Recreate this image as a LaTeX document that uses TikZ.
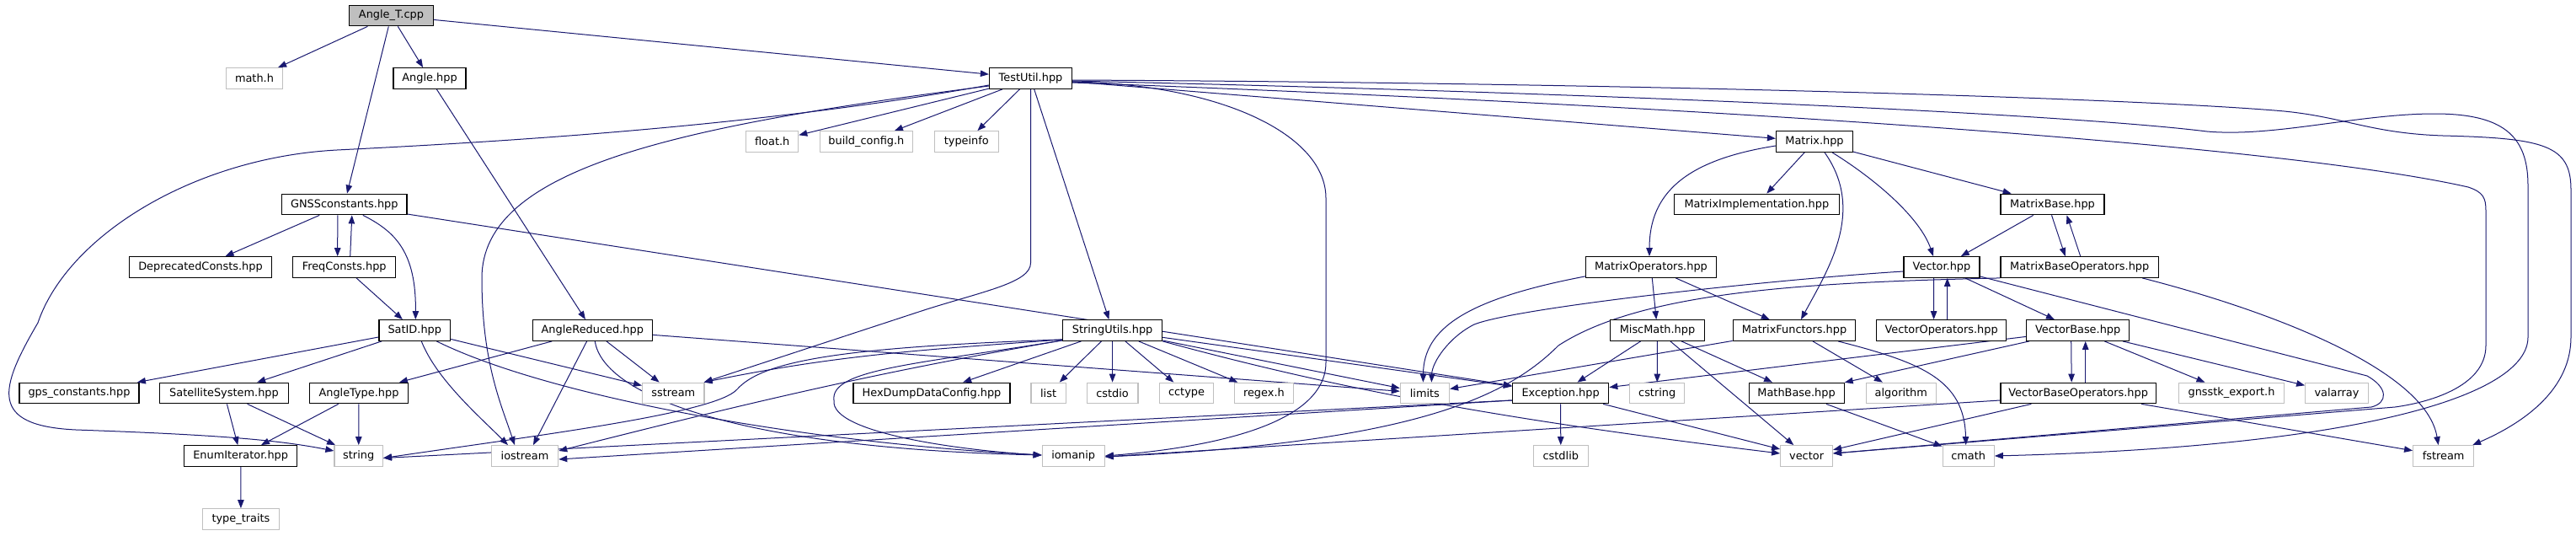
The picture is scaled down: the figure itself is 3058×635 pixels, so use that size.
\documentclass[tikz,border=0pt]{standalone}
\usepackage{fontspec}
\setmainfont{DejaVu Sans}
\usetikzlibrary{arrows.meta}
\definecolor{edgec}{HTML}{191970}
\definecolor{extc}{HTML}{BFBFBF}
\definecolor{rootc}{HTML}{BFBFBF}
\pgfdeclarelayer{back}
\pgfdeclarelayer{edges}
\pgfsetlayers{back,edges,main}
\tikzset{
  box/.style={draw=black, line width=1.2pt, fill=white, minimum height=24.6pt, inner sep=0pt,
    font=\fontsize{12.9pt}{15pt}\selectfont, text=black},
  ext/.style={box, draw=extc},
  root/.style={box, fill=rootc},
  edge/.style={draw=edgec, line width=1pt, -{Triangle[length=10pt,width=7.5pt]}},
}
\begin{document}
\begin{tikzpicture}[x=1pt, y=-1pt]
\begin{pgfonlayer}{back}
\fill[white] (0,0) rectangle (3058,635);
\end{pgfonlayer}
\useasboundingbox (0,0) rectangle (3058,635);

% row 0
\node[root, minimum width=100pt] (angleT) at (464.5,18.5) {Angle\_T.cpp};
% row 1
\node[ext, minimum width=67pt] (mathh) at (302,93) {math.h};
\node[box, minimum width=86pt] (angle) at (510,93) {Angle.hpp};
\node[box, minimum width=98pt] (testutil) at (1223.5,93) {TestUtil.hpp};
% row 2
\node[ext, minimum width=62pt] (floath) at (916.7,168) {float.h};
\node[ext, minimum width=110pt] (buildcfg) at (1028.4,168) {build\_config.h};
\node[ext, minimum width=75.6pt] (typeinfo) at (1147.3,168) {typeinfo};
\node[box, minimum width=91pt] (matrix) at (2154,168) {Matrix.hpp};
% row 3
\node[box, minimum width=148.5pt] (gnss) at (408.8,242.5) {GNSSconstants.hpp};
\node[box, minimum width=195.6pt] (matimpl) at (2085.4,242.5) {MatrixImplementation.hpp};
\node[box, minimum width=123pt] (matbase) at (2436.5,242.5) {MatrixBase.hpp};
% row 4
\node[box, minimum width=169pt] (deprec) at (238,317) {DeprecatedConsts.hpp};
\node[box, minimum width=122pt] (freq) at (408.7,317) {FreqConsts.hpp};
\node[box, minimum width=155pt] (matops) at (1960,317) {MatrixOperators.hpp};
\node[box, minimum width=90pt] (vectorh) at (2305,317) {Vector.hpp};
\node[box, minimum width=187.6pt] (matbaseops) at (2468.7,317) {MatrixBaseOperators.hpp};
% row 5
\node[box, minimum width=84.7pt] (satid) at (492.3,392) {SatID.hpp};
\node[box, minimum width=142.4pt] (anglered) at (703.3,392) {AngleReduced.hpp};
\node[box, minimum width=118pt] (strutils) at (1320.6,392) {StringUtils.hpp};
\node[box, minimum width=112.3pt] (miscmath) at (1967.5,392) {MiscMath.hpp};
\node[box, minimum width=145.4pt] (matfunc) at (2130,392) {MatrixFunctors.hpp};
\node[box, minimum width=153.5pt] (vecops) at (2304.6,392) {VectorOperators.hpp};
\node[box, minimum width=121.8pt] (vecbase) at (2466.7,392) {VectorBase.hpp};
% row 6
\node[box, minimum width=142pt] (gpsc) at (94,466.5) {gps\_constants.hpp};
\node[box, minimum width=152.6pt] (satsys) at (266,466.5) {SatelliteSystem.hpp};
\node[box, minimum width=117pt] (angletype) at (426,466.5) {AngleType.hpp};
\node[ext, minimum width=73.5pt] (sstream) at (799.3,466.5) {sstream};
\node[box, minimum width=186pt] (hexdump) at (1106,466.5) {HexDumpDataConfig.hpp};
\node[ext, minimum width=41.3pt] (list) at (1244.6,466.5) {list};
\node[ext, minimum width=60.7pt] (cstdio) at (1320.6,466.5) {cstdio};
\node[ext, minimum width=64.3pt] (cctype) at (1408.5,466.5) {cctype};
\node[ext, minimum width=70.4pt] (regexh) at (1500.4,466.5) {regex.h};
\node[ext, minimum width=58.2pt] (limits) at (1691.4,466.5) {limits};
\node[box, minimum width=114.3pt] (exception) at (1852.6,466.5) {Exception.hpp};
\node[ext, minimum width=65.3pt] (cstring) at (1967.2,466.5) {cstring};
\node[box, minimum width=113pt] (mathbase) at (2132.6,466.5) {MathBase.hpp};
\node[ext, minimum width=83.3pt] (algorithm) at (2256.8,466.5) {algorithm};
\node[box, minimum width=184.6pt] (vecbaseops) at (2467.2,466.5) {VectorBaseOperators.hpp};
\node[ext, minimum width=125.2pt] (gnsstkexp) at (2649,466.5) {gnsstk\_export.h};
\node[ext, minimum width=74.6pt] (valarray) at (2774,466.5) {valarray};
% row 7
\node[box, minimum width=133.8pt] (enumit) at (285.7,541) {EnumIterator.hpp};
\node[ext, minimum width=57.5pt] (string) at (425.7,541) {string};
\node[ext, minimum width=79.4pt] (iostream) at (623,541) {iostream};
\node[ext, minimum width=74pt] (iomanip) at (1274.2,541) {iomanip};
\node[ext, minimum width=64.8pt] (cstdlib) at (1852.8,541) {cstdlib};
\node[ext, minimum width=61.8pt] (vector) at (2144.6,541) {vector};
\node[ext, minimum width=61.1pt] (cmath) at (2336.7,541) {cmath};
\node[ext, minimum width=71.9pt] (fstream) at (2900.6,541) {fstream};
% row 8
\node[ext, minimum width=91.4pt] (typetraits) at (286,616) {type\_traits};

\begin{pgfonlayer}{edges}
% Angle_T.cpp
\draw[edge] (angleT) -- (mathh);
\draw[edge] (angleT) -- (angle);
\draw[edge] (angleT) -- (gnss);
\draw[edge] (angleT) -- (testutil);
\draw[edge] (angle) -- (anglered);
% TestUtil.hpp
\draw[edge] (testutil) -- (floath);
\draw[edge] (testutil) -- (buildcfg);
\draw[edge] (testutil) -- (typeinfo);
\draw[edge] (testutil) -- (strutils);
\draw[edge] (testutil) -- (matrix);
\draw[edge] (testutil.south) -- (1223.5,312) .. controls (1223.5,335) and (1170,345) .. (1100,367) -- ([xshift=-1pt]sstream.north east);
\draw[edge] ([yshift=-8pt]testutil.west) .. controls (900,150) and (600,168) .. (400,178) .. controls (230,187) and (80,280) .. (45,383) .. controls (0,460) and (-15,505) .. (90,510) .. controls (260,516) and (330,522) .. ([yshift=6pt]string.west);
\draw[edge] ([yshift=-9pt]testutil.west) .. controls (800,150) and (572,200) .. (572,330) .. controls (572,430) and (595,480) .. ([xshift=-12pt]iostream.north);
\draw[edge] ([yshift=-4pt]testutil.east) .. controls (1450,100) and (1574,160) .. (1574,235) -- (1574,430) .. controls (1574,500) and (1450,530) .. (iomanip.east);
\draw[edge] ([yshift=-5pt]testutil.east) .. controls (2000,125) and (2700,170) .. (2930,222) .. controls (2948,228) and (2951,235) .. (2951,250) -- (2951,410) .. controls (2951,460) and (2880,478) .. (2843,483) -- ([yshift=3pt]vector.east);
\draw[edge] ([yshift=-3pt]testutil.east) .. controls (1900,110) and (2450,135) .. (2620,156) .. controls (2700,163) and (2800,135) .. (2890,135) .. controls (2970,135) and (3001,160) .. (3001,220) -- (3001,400) .. controls (3001,470) and (2800,530) .. (cmath.east);
\draw[edge] ([yshift=-2pt]testutil.east) .. controls (1900,98) and (2500,115) .. (2700,131) .. controls (2780,137) and (2810,158) .. (2900,161) .. controls (3020,164) and (3052,172) .. (3052,225) -- (3052,400) .. controls (3052,460) and (3000,500) .. ([xshift=-2pt]fstream.north east);
% GNSSconstants.hpp
\draw[edge] (gnss) -- (deprec);
\draw[edge] ([xshift=-8pt]gnss.south) -- ([xshift=-8pt]freq.north);
\draw[edge] ([xshift=7pt]freq.north) -- ([xshift=9pt]gnss.south);
\draw[edge] ([xshift=22pt]gnss.south) .. controls (470,275) and (494,300) .. ([xshift=1pt]satid.north);
\draw[edge] (gnss) -- (exception);
\draw[edge] (freq) -- (satid);
% SatID.hpp
\draw[edge] (satid) -- (gpsc);
\draw[edge] (satid) -- (satsys);
\draw[edge] (satid) -- (sstream);
\draw[edge] ([xshift=8pt]satid.south) .. controls (518,450) and (570,495) .. ([xshift=-20pt]iostream.north);
\draw[edge] ([xshift=26pt]satid.south) .. controls (650,470) and (950,525) .. ([yshift=1pt]iomanip.west);
% SatelliteSystem, AngleType, EnumIterator
\draw[edge] (satsys) -- (enumit);
\draw[edge] (satsys) -- (string);
\draw[edge] (angletype) -- (enumit);
\draw[edge] (angletype) -- (string);
\draw[edge] (enumit) -- (typetraits);
% AngleReduced.hpp
\draw[edge] (anglered) -- (angletype);
\draw[edge] (anglered) -- ([xshift=10pt]iostream.north);
\draw[edge] (anglered) -- (sstream);
\draw[edge] (anglered) -- (limits);
\draw[edge] ([xshift=3pt]anglered.south) .. controls (716,470) and (880,532) .. ([yshift=1pt]iomanip.west);
% StringUtils.hpp
\draw[edge] (strutils) -- (hexdump);
\draw[edge] (strutils) -- (list);
\draw[edge] (strutils) -- (cstdio);
\draw[edge] (strutils) -- (cctype);
\draw[edge] (strutils) -- (regexh);
\draw[edge] (strutils) -- (limits);
\draw[edge] (strutils) -- (exception);
\draw[edge] (strutils.south east) .. controls (1600,465) and (1800,500) .. ([yshift=3pt]vector.west);
\draw[edge] ([yshift=2pt]strutils.south west) .. controls (1100,415) and (1000,420) .. ([xshift=-1pt]sstream.north east);
\draw[edge] ([yshift=2pt]strutils.south west) .. controls (1000,412) and (905,428) .. (875,462) .. controls (850,490) and (650,515) .. ([yshift=-2.5pt]string.east);
\draw[edge] ([yshift=1pt]strutils.south west) .. controls (1050,440) and (900,475) .. ([yshift=6pt]iostream.east);
\draw[edge] ([yshift=1pt]strutils.south west) .. controls (1090,432) and (985,438) .. (990,475) .. controls (985,515) and (1150,535) .. ([yshift=1pt]iomanip.west);
% Exception.hpp
\draw[edge] (exception) -- (cstdlib);
\draw[edge] (exception) -- (vector);
\draw[edge] ([yshift=-8.5pt]exception.west) -- ([yshift=-2.5pt]string.east);
\draw[edge] ([yshift=-8.5pt]exception.west) -- ([yshift=-4pt]iostream.east);
% MiscMath.hpp
\draw[edge] (miscmath) -- (exception);
\draw[edge] (miscmath) -- (cstring);
\draw[edge] (miscmath) -- (mathbase);
\draw[edge] (miscmath) -- (vector);
% MatrixOperators.hpp
\draw[edge] ([yshift=2pt]matops.south west) .. controls (1740,355) and (1690,390) .. ([xshift=-2pt]limits.north);
\draw[edge] (matops) -- (miscmath);
\draw[edge] (matops) -- (matfunc);
% Matrix.hpp
\draw[edge] ([yshift=-5pt]matrix.west) .. controls (2000,190) and (1958,230) .. ([xshift=-2pt]matops.north);
\draw[edge] (matrix) -- (matimpl);
\draw[edge] ([xshift=12pt]matrix.south) .. controls (2215,250) and (2170,320) .. ([xshift=8pt]matfunc.north);
\draw[edge] ([xshift=21pt]matrix.south) .. controls (2230,215) and (2280,260) .. ([xshift=-10pt]vectorh.north);
\draw[edge] (matrix) -- (matbase);
% MatrixBase.hpp
\draw[edge] (matbase) -- (vectorh);
\draw[edge] ([xshift=-1pt]matbase.south) -- ([xshift=-17pt]matbaseops.north);
\draw[edge] ([xshift=1pt]matbaseops.north) -- ([xshift=17pt]matbase.south);
% MatrixBaseOperators.hpp
\draw[edge] (matbaseops.south west) .. controls (2150,335) and (1950,345) .. (1850,410) .. controls (1790,470) and (1680,525) .. ([yshift=-1pt]iomanip.east);
\draw[edge] ([xshift=-20pt]matbaseops.south east) .. controls (2700,370) and (2880,440) .. ([xshift=-6pt]fstream.north);
% Vector.hpp
\draw[edge] ([xshift=-9.5pt]vectorh.south) -- ([xshift=-9pt]vecops.north);
\draw[edge] ([xshift=7pt]vecops.north) -- ([xshift=6.7pt]vectorh.south);
\draw[edge] (vectorh) -- (vecbase);
\draw[edge] ([yshift=-5pt]vectorh.west) .. controls (2100,332) and (1800,365) .. (1750,385) .. controls (1720,400) and (1700,430) .. ([xshift=8pt]limits.north);
\draw[edge] ([yshift=-11pt]vectorh.east) -- (2810,446) .. controls (2835,460) and (2835,478) .. (2815,483) -- ([yshift=3pt]vector.east);
% VectorBase.hpp
\draw[edge] ([xshift=-8pt]vecbase.south) -- ([xshift=-8pt]vecbaseops.north);
\draw[edge] ([xshift=8.5pt]vecbaseops.north) -- ([xshift=9pt]vecbase.south);
\draw[edge] (vecbase) -- (mathbase);
\draw[edge] (vecbase) -- (exception);
\draw[edge] (vecbase) -- (gnsstkexp);
\draw[edge] (vecbase) -- (valarray);
% VectorBaseOperators.hpp
\draw[edge] (vecbaseops) -- (vector);
\draw[edge] (vecbaseops) -- (fstream);
\draw[edge] ([yshift=-8.5pt]vecbaseops.west) -- ([yshift=-1pt]iomanip.east);
% MathBase.hpp
\draw[edge] (mathbase) -- (cmath);
% MatrixFunctors.hpp
\draw[edge] (matfunc) -- (algorithm);
\draw[edge] ([xshift=52pt]matfunc.south) .. controls (2280,430) and (2332,450) .. ([xshift=-3pt]cmath.north);
\draw[edge] (matfunc) -- (limits);
\end{pgfonlayer}
\end{tikzpicture}
\end{document}
